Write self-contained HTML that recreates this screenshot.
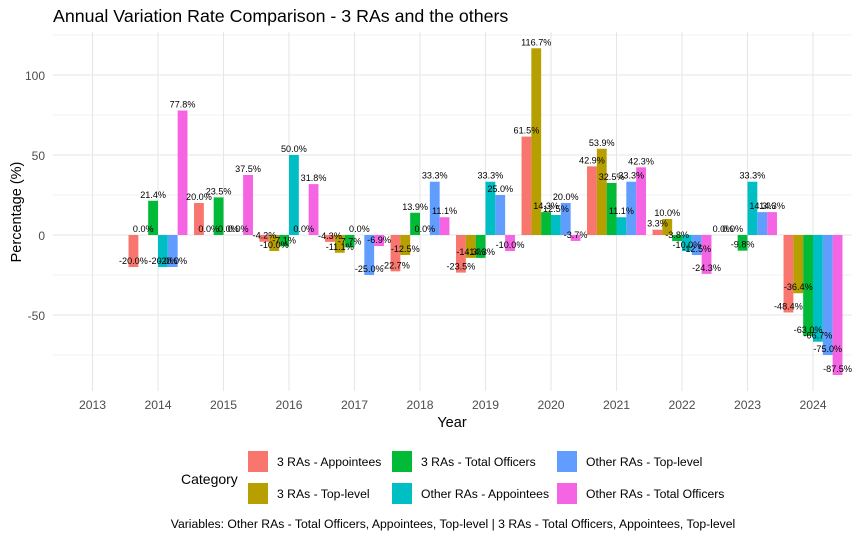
<!DOCTYPE html>
<html><head><meta charset="utf-8"><style>
body{margin:0;background:#fff;font-family:"Liberation Sans",Arial,sans-serif;}
svg text{font-family:"Liberation Sans",Arial,sans-serif;}
</style></head><body>
<svg id="c" width="859" height="538" xmlns="http://www.w3.org/2000/svg">
<rect width="859" height="538" fill="#fff"/>
<text x="53" y="22" font-size="17.8" fill="#000">Annual Variation Rate Comparison - 3 RAs and the others</text>
<g id="grid"></g><g id="bars"></g><g id="labels"></g><g id="axes"></g><g id="legend"></g>
<text x="453" y="528" font-size="12.2" text-anchor="middle" fill="#000">Variables: Other RAs - Total Officers, Appointees, Top-level | 3 RAs - Total Officers, Appointees, Top-level</text>
</svg>
<script>
const years=["2013","2014","2015","2016","2017","2018","2019","2020","2021","2022","2023","2024"];
const seriesNames=["3 RAs - Appointees","3 RAs - Top-level","3 RAs - Total Officers","Other RAs - Appointees","Other RAs - Top-level","Other RAs - Total Officers"];
const ra3Appointees=[null,-20,20,-4.2,-4.3,-22.7,-23.5,61.5,42.9,3.3,0,-48.4];
const ra3TopLevel=[null,0,0,-10,-11.1,-12.5,-14.3,116.7,53.9,10,0,-36.4];
const ra3Total=[null,21.4,23.5,-7.1,-7.7,13.9,-14.3,14.3,32.5,-3.8,-9.8,-63.0];
const otherAppointees=[null,-20,0,50,0,0,33.3,12.5,11.1,-10,33.3,-66.7];
const otherTopLevel=[null,-20,0,0,-25,33.3,25,20,33.3,-12.5,14.3,-75];
const otherTotal=[null,77.8,37.5,31.8,-6.9,11.1,-10,-3.7,42.3,-24.3,14.3,-87.5];
const yTicks=[-50,0,50,100];
const yMinor=[-75,-25,25,75,125];
const series=[ra3Appointees,ra3TopLevel,ra3Total,otherAppointees,otherTopLevel,otherTotal];
const colors=["#F8766D","#B79F00","#00BA38","#00BFC4","#619CFF","#F564E3"];
const NS="http://www.w3.org/2000/svg";
const step=65.5, x0=92.5;
const xScale=i=>x0+i*step;
const yScale=v=>235-v*1.6;
const panelL=53,panelR=852,panelT=32,panelB=391;
function mk(tag,attrs,parent){const e=document.createElementNS(NS,tag);for(const k in attrs)e.setAttribute(k,attrs[k]);document.getElementById(parent).appendChild(e);return e;}
yMinor.forEach(v=>{const l=mk('line',{x1:panelL,x2:panelR,y1:yScale(v),y2:yScale(v),stroke:'#ececec','stroke-width':0.7},'grid');

});
yTicks.forEach(v=>{const l=mk('line',{x1:panelL,x2:panelR,y1:yScale(v),y2:yScale(v),stroke:'#e6e6e6','stroke-width':1.1},'grid');


const t=mk('text',{x:45,y:yScale(v)+5,'font-size':12,'text-anchor':'end',fill:'#4d4d4d'},'axes');t.textContent=v;

});
years.forEach((y,i)=>{const l=mk('line',{x1:xScale(i),x2:xScale(i),y1:panelT,y2:panelB,stroke:'#e6e6e6','stroke-width':1.1},'grid');


const t=mk('text',{x:xScale(i),y:409,'font-size':12.2,'text-anchor':'middle',fill:'#4d4d4d'},'axes');t.textContent=y;

});
const bw=step*0.9/6;
series.forEach((s,k)=>{s.forEach((v,i)=>{if(v===null)return;
const x=xScale(i)-step*0.45+k*bw;
const r=mk('rect',{x:x,width:bw,y:Math.min(yScale(v),yScale(0)),height:Math.abs(yScale(v)-yScale(0)),fill:colors[k]},'bars');


const t=mk('text',{x:x+bw/2,y:yScale(v)-3,'font-size':9.1,'text-anchor':'middle',fill:'#000'},'labels');t.textContent=v.toFixed(1)+'%';

});});
const yl=mk('text',{x:21,y:212,'font-size':14.5,'text-anchor':'middle',fill:'#000',transform:'rotate(-90 21 212)'},'axes');yl.textContent='Percentage (%)';


const xl=mk('text',{x:452,y:427,'font-size':14.5,'text-anchor':'middle',fill:'#000'},'axes');xl.textContent='Year';


const lt=mk('text',{x:181,y:484,'font-size':14,fill:'#000'},'legend');lt.textContent='Category';


const lx=[248,392,557];
seriesNames.forEach((n,k)=>{const col=Math.floor(k/2),row=k%2;const x=lx[col],y=row?483:451;
const r=mk('rect',{x:x,y:y,width:20,height:21,fill:colors[k]},'legend');


const t=mk('text',{x:x+29,y:y+15,'font-size':12.2,fill:'#000'},'legend');t.textContent=n;

});
</script>
</body></html>
